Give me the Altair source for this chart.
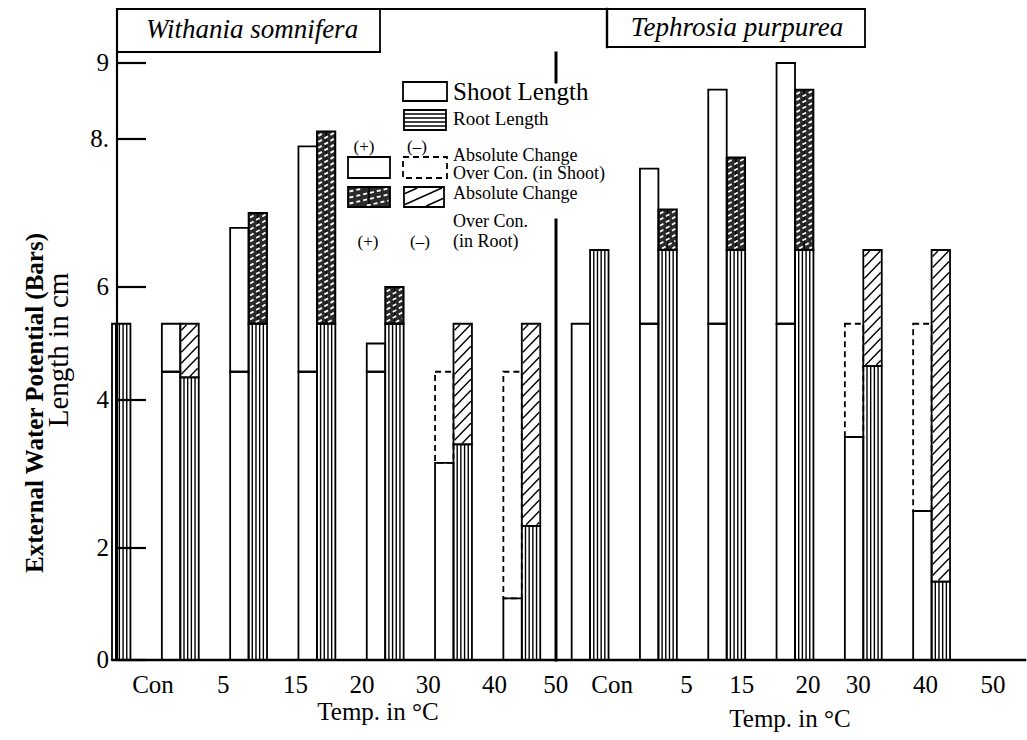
import altair as alt
import numpy as np
import pandas as pd

# ---------------------------------------------------------------- data
TEMPS = ["Con", "5", "15", "20", "30", "40", "50"]
SPECIES = ["Withania somnifera", "Tephrosia purpurea"]

# mean lengths (cm) at each temperature; None where no bar is drawn
WITHANIA_SHOOT = [None, 5.35, 6.8, 7.9, 5.0, 3.15, 1.1]
WITHANIA_ROOT = [5.35, 4.4, 7.0, 8.1, 6.0, 3.4, 2.3]
TEPHROSIA_SHOOT = [5.35, 7.6, 8.65, 9.0, 3.5, 2.5, None]
TEPHROSIA_ROOT = [6.5, 7.05, 7.75, 8.65, 4.6, 1.4, None]

# control lengths that the absolute change is measured from
WITHANIA_CONTROL = {"shoot": 4.5, "root": 5.35}
TEPHROSIA_CONTROL = {"shoot": 5.35, "root": 6.5}

Y_TICKS = [0, 2, 4, 6, 8, 9]
Y_TICK_TEXT = ["0", "2", "4", "6", "8.", "9"]

# ---------------------------------------------------------------- layout
W, H = 1027, 740
FONT = "Liberation Serif"
X_ORIGIN = 112.0          # pixel centre of the first temperature slot
SLOT_PX = 68.3            # pixels per temperature slot
HALF = 0.27               # width of one bar, in slots
# the printed value axis is not evenly spaced: piecewise linear scale
Y_DOMAIN = [-1.5, 0, 2, 4, 6, 8, 9, 10]
Y_RANGE = [744, 660, 548, 400, 287, 139, 63, -13]
TICK_NUDGE_PX = [41, 43, 47, 45, 43, 41, 34, 22, 28, 15, 13, -5, -6, -7]
AXIS_X, AXIS_Y = 117, 660


def sx(px):
    return (px - X_ORIGIN) / SLOT_PX


def px_x(s):
    return X_ORIGIN + s * SLOT_PX


def dy(py):
    return float(np.interp(py, Y_RANGE[::-1], Y_DOMAIN[::-1]))


def px_y(v):
    return float(np.interp(v, Y_DOMAIN, Y_RANGE))


X_SCALE = alt.Scale(domain=[sx(0), sx(W)], range=[0, W], nice=False, zero=False)
Y_SCALE = alt.Scale(domain=Y_DOMAIN, range=Y_RANGE, nice=False, zero=False)


def xy_enc(two=True):
    enc = dict(
        x=alt.X("x:Q", scale=X_SCALE, axis=None),
        y=alt.Y("y:Q", scale=Y_SCALE, axis=None),
    )
    if two:
        enc["x2"] = alt.X2("x2:Q")
        enc["y2"] = alt.Y2("y2:Q")
    return enc


# ---------------------------------------------------------------- bars
rects = []


def add_rect(x, x2, y, y2, kind):
    rects.append(dict(x=x, x2=x2, y=y, y2=y2, kind=kind))


def add_bar(left, right, value, control, part):
    lo = min(value, control)
    add_rect(left, right, 0, lo, part)
    if value > control:
        add_rect(left, right, control, value, part + "_gain")
    elif value < control:
        add_rect(left, right, value, control, part + "_loss")


series = [
    (WITHANIA_SHOOT, WITHANIA_ROOT, WITHANIA_CONTROL),
    (TEPHROSIA_SHOOT, TEPHROSIA_ROOT, TEPHROSIA_CONTROL),
]
for k, (shoot, root, con) in enumerate(series):
    for i in range(len(TEMPS)):
        c = k * len(TEMPS) + i
        if shoot[i] is not None:
            add_bar(c - HALF, c, shoot[i], con["shoot"], "shoot")
        if root[i] is not None:
            add_bar(c, c + HALF, root[i], con["root"], "root")


def add_px_rect(x1, x2, y_top, y_bot, kind):
    add_rect(sx(x1), sx(x2), dy(y_bot), dy(y_top), kind)


# legend swatches
add_px_rect(403, 447, 82, 101, "shoot")
add_px_rect(404, 446, 110, 130, "legend_root")
add_px_rect(348, 390, 157, 178, "shoot_gain")
add_px_rect(403, 447, 157, 178, "shoot_loss")
add_px_rect(348, 390, 187, 207, "root_gain")
add_px_rect(404, 444, 187, 207, "root_loss")

rect_df = pd.DataFrame(rects)

# ---------------------------------------------------------------- fill patterns
dark_lines, light_lines = [], []


def seg(store, x1, y1, x2, y2):
    store.append(dict(x=sx(x1), y=dy(y1), x2=sx(x2), y2=dy(y2)))


def diagonals(store, xl, xr, yb, yt, spacing, rise):
    w = xr - xl
    y0 = yt + spacing * 0.5
    while y0 < yb + rise:
        t0 = max(0.0, (y0 - yb) / rise)
        t1 = min(1.0, (y0 - yt) / rise)
        if t1 - t0 > 0.05:
            seg(store, xl + t0 * w, y0 - t0 * rise, xl + t1 * w, y0 - t1 * rise)
        y0 += spacing


for r in rects:
    xl, xr = px_x(r["x"]), px_x(r["x2"])
    yb, yt = px_y(r["y"]), px_y(r["y2"])
    if r["kind"] == "root":
        for f in (0.2, 0.4, 0.6, 0.8):
            xv = xl + f * (xr - xl)
            seg(dark_lines, xv, yb, xv, yt)
    elif r["kind"] == "legend_root":
        for f in (0.2, 0.4, 0.6, 0.8):
            yh = yt + f * (yb - yt)
            seg(dark_lines, xl, yh, xr, yh)
    elif r["kind"] == "root_loss":
        diagonals(dark_lines, xl + 1, xr - 1, yb - 1, yt + 1, 11, 17)
    elif r["kind"] == "root_gain":
        diagonals(light_lines, xl + 1.5, xr - 1.5, yb - 1.5, yt + 1.5, 6, 9)
        xm = (xl + xr) / 2
        seg(dark_lines, xm, yb, xm, yt)

dark_df = pd.DataFrame(dark_lines)
light_df = pd.DataFrame(light_lines)

fills = (
    alt.Chart(rect_df)
    .mark_rect(strokeWidth=0)
    .encode(
        **xy_enc(),
        fill=alt.Fill(
            "kind:N",
            scale=alt.Scale(
                domain=["shoot", "shoot_gain", "shoot_loss", "root", "root_gain", "root_loss", "legend_root"],
                range=["white", "white", "white", "white", "#2b2b2b", "white", "white"],
            ),
            legend=None,
        ),
    )
)

pattern_dark = alt.Chart(dark_df).mark_rule(color="black", strokeWidth=1.4).encode(**xy_enc())
pattern_light = (
    alt.Chart(light_df)
    .mark_rule(color="white", strokeWidth=1.8, strokeDash=[4, 3])
    .encode(**xy_enc())
)

outline_solid = (
    alt.Chart(rect_df)
    .transform_filter(alt.datum.kind != "shoot_loss")
    .mark_rect(fillOpacity=0, stroke="black", strokeWidth=1.8)
    .encode(**xy_enc())
)
outline_dashed = (
    alt.Chart(rect_df)
    .transform_filter(alt.datum.kind == "shoot_loss")
    .mark_rect(fillOpacity=0, stroke="black", strokeWidth=1.8, strokeDash=[6, 4])
    .encode(**xy_enc())
)

# ---------------------------------------------------------------- frame and axes
frame = []


def line(x1, y1, x2, y2, w):
    frame.append(dict(x=sx(x1), y=dy(y1), x2=sx(x2), y2=dy(y2), w=w))


line(AXIS_X, 9, AXIS_X, AXIS_Y, 2.2)          # value axis
line(113, AXIS_Y, 1025, AXIS_Y, 2.6)          # temperature axis
line(AXIS_X, 9, 865, 9, 2.0)                  # top rule
line(380, 9, 380, 52, 1.8)                    # species boxes
line(AXIS_X, 52, 380, 52, 1.8)
line(607, 9, 607, 47, 2.4)
line(865, 9, 865, 47, 1.8)
line(607, 47, 865, 47, 1.8)
line(556, 53, 556, 82, 3.0)                   # divider between species
line(556, 220, 556, AXIS_Y, 3.0)
frame_df = pd.DataFrame(frame)

frame_layer = (
    alt.Chart(frame_df)
    .mark_rule(color="black", strokeCap="square")
    .encode(**xy_enc(), strokeWidth=alt.StrokeWidth("w:Q", scale=None))
)

tick_df = pd.DataFrame(
    dict(y=Y_TICKS, y2=Y_TICKS, x=[sx(AXIS_X)] * len(Y_TICKS), x2=[sx(146)] * len(Y_TICKS), t=Y_TICK_TEXT)
)
ticks = (
    alt.Chart(tick_df)
    .mark_rule(color="black", strokeWidth=2.2)
    .encode(
        x=alt.X("x:Q", scale=X_SCALE, axis=None),
        x2="x2:Q",
        y=alt.Y("y:Q", scale=Y_SCALE, axis=None),
    )
)
tick_text = (
    alt.Chart(tick_df)
    .mark_text(font=FONT, fontSize=25, align="right", baseline="middle", color="black")
    .encode(x=alt.value(109), y=alt.Y("y:Q", scale=Y_SCALE, axis=None), text="t:N")
)

temp_labels = pd.DataFrame(
    dict(
        x=[sx(px_x(i) + TICK_NUDGE_PX[i]) for i in range(2 * len(TEMPS))],
        t=TEMPS * 2,
    )
)
temp_text = (
    alt.Chart(temp_labels)
    .mark_text(font=FONT, fontSize=25, align="center", baseline="middle", color="black")
    .encode(x=alt.X("x:Q", scale=X_SCALE, axis=None), y=alt.value(685), text="t:N")
)


def label(txt, x, y, size, align="left", weight="normal", style="normal", angle=0):
    return (
        alt.Chart(alt.Data(values=[{"t": txt}]))
        .mark_text(
            font=FONT, fontSize=size, align=align, baseline="middle",
            fontWeight=weight, fontStyle=style, angle=angle, color="black",
        )
        .encode(x=alt.value(x), y=alt.value(y), text="t:N")
    )


texts = [
    label(SPECIES[0], 252, 30, 27, align="center", style="italic"),
    label(SPECIES[1], 737, 28, 27, align="center", style="italic"),
    label("External Water Potential (Bars)", 35, 403, 25, align="center", weight="bold", angle=270),
    label("Length in cm", 59, 350, 29, align="center", angle=270),
    label("Temp. in °C", 378, 712, 25, align="center"),
    label("Temp. in °C", 790, 719, 25, align="center"),
    label("Shoot Length", 453, 92, 25),
    label("Root Length", 453, 119, 19),
    label("(+)", 364, 147, 17, align="center"),
    label("(–)", 417, 147, 17, align="center"),
    label("Absolute Change", 453, 156, 18),
    label("Over Con. (in Shoot)", 453, 174, 18),
    label("Absolute Change", 453, 194, 18),
    label("Over Con.", 453, 222, 18),
    label("(in Root)", 453, 242, 18),
    label("(+)", 368, 242, 17, align="center"),
    label("(–)", 420, 242, 17, align="center"),
]

chart = (
    alt.layer(
        fills, pattern_dark, pattern_light, outline_solid, outline_dashed,
        frame_layer, ticks, tick_text, temp_text, *texts,
    )
    .properties(width=W, height=H, padding=0, autosize="none", background="white")
    .configure_view(stroke=None)
)

chart.save("out.html", embed_options={"renderer": "svg", "actions": False})
